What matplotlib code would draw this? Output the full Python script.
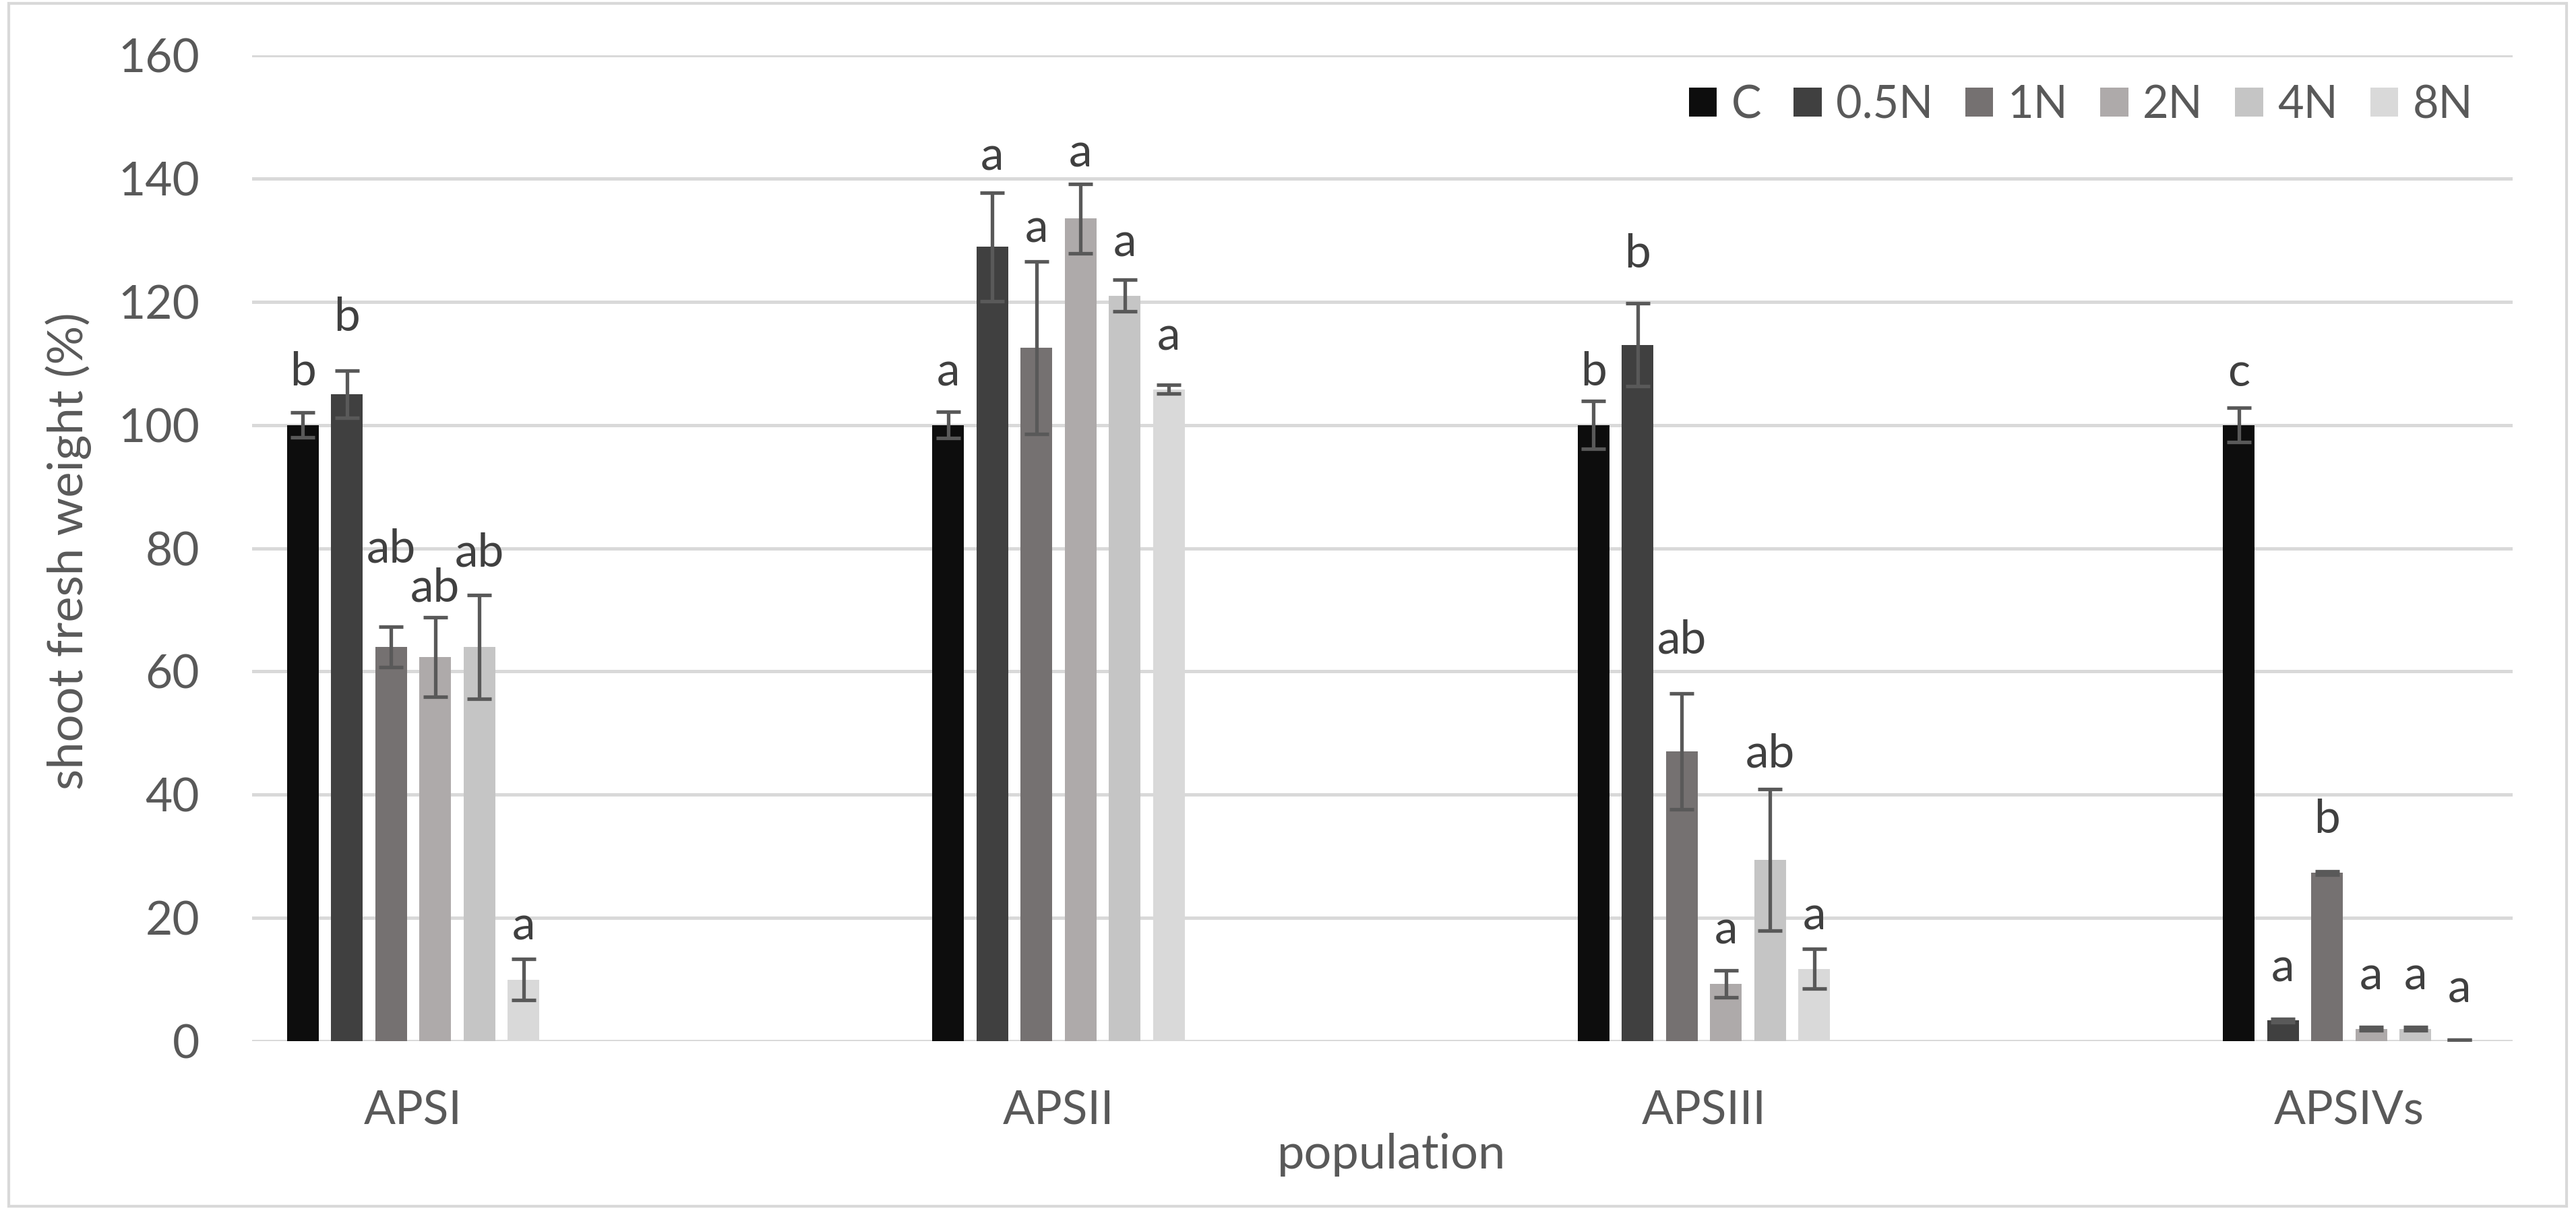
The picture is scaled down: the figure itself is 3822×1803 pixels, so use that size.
import matplotlib
matplotlib.use("Agg")
import matplotlib.pyplot as plt
import numpy as np
from matplotlib.patches import Rectangle

plt.rcParams['font.family'] = ['Lato', 'DejaVu Sans']

# ---------------- data ----------------
categories = ['APSI', 'APSII', 'APSIII', 'APSIVs']
series = ['C', '0.5N', '1N', '2N', '4N', '8N']

val_C = [100.0, 100.0, 100.0, 100.0]
val_05N = [105.0, 128.9, 113.0, 3.35]
val_1N = [64.0, 112.5, 47.0, 27.3]
val_2N = [62.3, 133.5, 9.3, 2.0]
val_4N = [64.0, 121.0, 29.4, 2.0]
val_8N = [10.0, 105.8, 11.75, 0.25]

err_C = [2.0, 2.1, 3.9, 2.8]
err_05N = [3.85, 8.8, 6.75, 0.3]
err_1N = [3.3, 14.0, 9.4, 0.3]
err_2N = [6.45, 5.65, 2.2, 0.3]
err_4N = [8.4, 2.6, 11.5, 0.3]
err_8N = [3.3, 0.75, 3.2, 0.0]

let_C = ['b', 'a', 'b', 'c']
let_05N = ['b', 'a', 'b', 'a']
let_1N = ['ab', 'a', 'ab', 'b']
let_2N = ['ab', 'a', 'a', 'a']
let_4N = ['ab', 'a', 'ab', 'a']
let_8N = ['a', 'a', 'a', 'a']

# baseline heights of the significance letters (as placed in the original)
lety_C = [106.4, 106.4, 106.4, 106.3]
lety_05N = [115.3, 141.3, 125.6, 9.7]
lety_1N = [77.7, 129.6, 62.9, 33.8]
lety_2N = [71.4, 141.9, 15.8, 8.4]
lety_4N = [77.1, 127.4, 44.5, 8.4]
lety_8N = [16.5, 112.2, 18.1, 6.3]

yticks = [0, 20, 40, 60, 80, 100, 120, 140, 160]

# ---------------- style ----------------
colors = ['#0d0d0d', '#404040', '#757171', '#aeaaaa', '#c5c5c5', '#d9d9d9']
values = [val_C, val_05N, val_1N, val_2N, val_4N, val_8N]
errors = [err_C, err_05N, err_1N, err_2N, err_4N, err_8N]
letters = [let_C, let_05N, let_1N, let_2N, let_4N, let_8N]
lety = [lety_C, lety_05N, lety_1N, lety_2N, lety_4N, lety_8N]

W, H = 3822, 1803
DPI = 200
fig = plt.figure(figsize=(W / DPI, H / DPI), dpi=DPI)
fig.patch.set_facecolor('white')

# figure border
fig.patches.append(Rectangle((13 / W, 1 - 1790 / H), (3808 - 13) / W, (1790 - 5) / H,
                             transform=fig.transFigure, fill=False,
                             edgecolor='#d9d9d9', linewidth=1.5))

left, right, bottom, top = 374, 3728, 1545, 82
ax = fig.add_axes([left / W, 1 - bottom / H, (right - left) / W, (bottom - top) / H])

x = np.arange(len(categories))
bw = 0.0491
step = 0.0684
offsets = (np.arange(len(series)) - (len(series) - 1) / 2) * step

tc = '#595959'
for i, s in enumerate(series):
    xs = x + offsets[i]
    ax.bar(xs, values[i], width=bw, color=colors[i], label=s, zorder=2)
    ax.errorbar(xs, values[i], yerr=errors[i], fmt='none', ecolor='#595959',
                elinewidth=1.9, capsize=6.6, capthick=1.9, zorder=3)
    for j in range(len(categories)):
        ax.text(xs[j], lety[i][j], letters[i][j], ha='center', va='baseline',
                fontsize=25, color='#404040', zorder=4)

ax.set_ylim(0, 160)
ax.set_xlim((left - 613) / 957.5, (right - 613) / 957.5)
ax.set_yticks(yticks)
ax.set_yticklabels([str(t) for t in yticks])
ax.set_xticks(x)
ax.set_xticklabels(categories)
ax.tick_params(axis='both', length=0, labelsize=25, labelcolor=tc)
ax.tick_params(axis='y', pad=28)
ax.tick_params(axis='x', pad=26)
for sp in ax.spines.values():
    sp.set_visible(False)
ax.yaxis.grid(True, color='#d9d9d9', linewidth=1.8, zorder=0)
ax.set_axisbelow(True)

fig.text(102 / W, 1 - 818 / H, 'shoot fresh weight (%)', rotation=90,
         ha='center', va='center', fontsize=26, color=tc)
fig.text(2065 / W, 1 - 1714 / H, 'population', ha='center', va='center',
         fontsize=26, color=tc)

leg = ax.legend(loc='center', bbox_to_anchor=((2507 + 3668) / 2 / W, 1 - 156 / H),
                bbox_transform=fig.transFigure, ncol=6, frameon=False,
                fontsize=24, handlelength=0.62, handleheight=0.62,
                handletextpad=0.32, columnspacing=0.72, borderpad=0, borderaxespad=0)
for t in leg.get_texts():
    t.set_color(tc)

fig.savefig('out.png', dpi=DPI, facecolor='white')
